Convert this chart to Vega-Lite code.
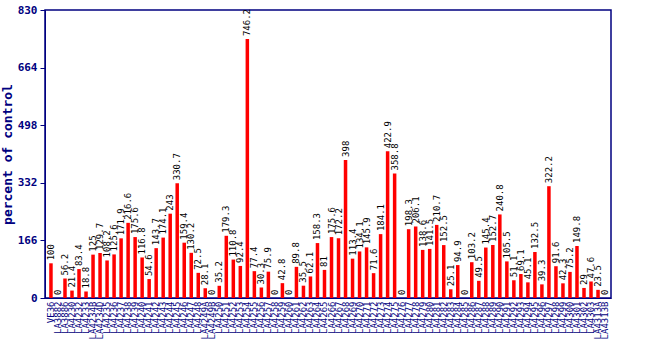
{
  "$schema": "https://vega.github.io/schema/vega-lite/v6.json",
  "width": 566,
  "height": 288,
  "autosize": {"type": "none"},
  "padding": {"left": 45, "top": 10, "right": 39, "bottom": 52},
  "background": "white",
  "config": {
    "view": {"stroke": "#000080", "strokeWidth": 1.5},
    "axis": {"domainColor": "#000080", "tickColor": "#000080", "labelColor": "#000080", "titleColor": "#000080", "grid": false}
  },
  "data": {"values": [
    {"s": "VE36", "v": 100}, {"s": "LA3882", "v": 0}, {"s": "LA3886", "v": 56.2}, {"s": "LA4230", "v": 21.4},
    {"s": "LA4232", "v": 83.4}, {"s": "LA4233", "v": 18.8}, {"s": "LA4234B", "v": 125}, {"s": "LA4234D", "v": 129.7},
    {"s": "LA4235", "v": 108.2}, {"s": "LA4236", "v": 125.6}, {"s": "LA4237", "v": 171.9}, {"s": "LA4238", "v": 216.6},
    {"s": "LA4239", "v": 175.6}, {"s": "LA4240", "v": 116.8}, {"s": "LA4241", "v": 54.6}, {"s": "LA4242", "v": 143.7},
    {"s": "LA4243", "v": 174.1}, {"s": "LA4244", "v": 243}, {"s": "LA4245", "v": 330.7}, {"s": "LA4246", "v": 159.4},
    {"s": "LA4247", "v": 130.2}, {"s": "LA4248", "v": 72.5}, {"s": "LA4249A", "v": 28.1}, {"s": "LA4249B", "v": 0},
    {"s": "LA4250", "v": 35.2}, {"s": "LA4251", "v": 179.3}, {"s": "LA4252", "v": 110.8}, {"s": "LA4253", "v": 92.4},
    {"s": "LA4254", "v": 746.2}, {"s": "LA4255", "v": 77.4}, {"s": "LA4256", "v": 30.3}, {"s": "LA4257", "v": 75.9},
    {"s": "LA4258", "v": 0}, {"s": "LA4259", "v": 42.8}, {"s": "LA4260", "v": 0}, {"s": "LA4261", "v": 89.8},
    {"s": "LA4262", "v": 35.5}, {"s": "LA4263", "v": 62.1}, {"s": "LA4264", "v": 158.3}, {"s": "LA4265", "v": 81},
    {"s": "LA4266", "v": 175.6}, {"s": "LA4267", "v": 172.2}, {"s": "LA4268", "v": 398}, {"s": "LA4269", "v": 113.4},
    {"s": "LA4270", "v": 134.1}, {"s": "LA4271", "v": 145.9}, {"s": "LA4272", "v": 71.6}, {"s": "LA4273", "v": 184.1},
    {"s": "LA4274", "v": 422.9}, {"s": "LA4275", "v": 358.8}, {"s": "LA4276", "v": 0}, {"s": "LA4277", "v": 198.3},
    {"s": "LA4278", "v": 206.1}, {"s": "LA4279", "v": 138.6}, {"s": "LA4280", "v": 141.5}, {"s": "LA4281", "v": 210.7},
    {"s": "LA4282", "v": 152.5}, {"s": "LA4283", "v": 25.1}, {"s": "LA4284", "v": 94.9}, {"s": "LA4285", "v": 0},
    {"s": "LA4286", "v": 103.2}, {"s": "LA4287", "v": 49.5}, {"s": "LA4288", "v": 145.4}, {"s": "LA4289", "v": 152.7},
    {"s": "LA4290", "v": 240.8}, {"s": "LA4291", "v": 105.5}, {"s": "LA4292", "v": 51.1}, {"s": "LA4293", "v": 69.1},
    {"s": "LA4294", "v": 45.1}, {"s": "LA4295", "v": 132.5}, {"s": "LA4296", "v": 39.3}, {"s": "LA4297", "v": 322.2},
    {"s": "LA4298", "v": 91.6}, {"s": "LA4299", "v": 42.3}, {"s": "LA4300", "v": 75.2}, {"s": "LA4301", "v": 149.8},
    {"s": "LA4302", "v": 29}, {"s": "LA4303", "v": 47.6}, {"s": "LA4313A", "v": 23.5}, {"s": "LA4313B", "v": 0}
  ]},
  "encoding": {
    "x": {"field": "s", "type": "nominal", "sort": null,
      "scale": {"paddingInner": 0.5, "paddingOuter": 0.6},
      "axis": {"title": null, "labelAngle": -90, "labelFont": "DejaVu Sans Mono", "labelFontSize": 9, "labelPadding": 3, "labelLimit": 52, "ticks": false, "domain": true}},
    "y": {"field": "v", "type": "quantitative",
      "scale": {"domain": [0, 830], "nice": false},
      "axis": {"title": "percent of control", "titleFont": "DejaVu Sans Mono", "titleFontSize": 13, "titleFontWeight": "bold", "titlePadding": 3,
        "values": [0, 166, 332, 498, 664, 830], "labelFont": "DejaVu Sans Mono", "labelFontWeight": "bold", "labelFontSize": 11, "tickSize": 5, "labelPadding": 3}}
  },
  "layer": [
    {"mark": {"type": "bar", "color": "#ff0000"}},
    {"mark": {"type": "text", "angle": -90, "align": "left", "baseline": "middle", "dx": 3, "font": "DejaVu Sans Mono", "fontSize": 9, "color": "black"},
      "encoding": {"text": {"field": "v", "type": "quantitative", "format": "~g"}}}
  ]
}
